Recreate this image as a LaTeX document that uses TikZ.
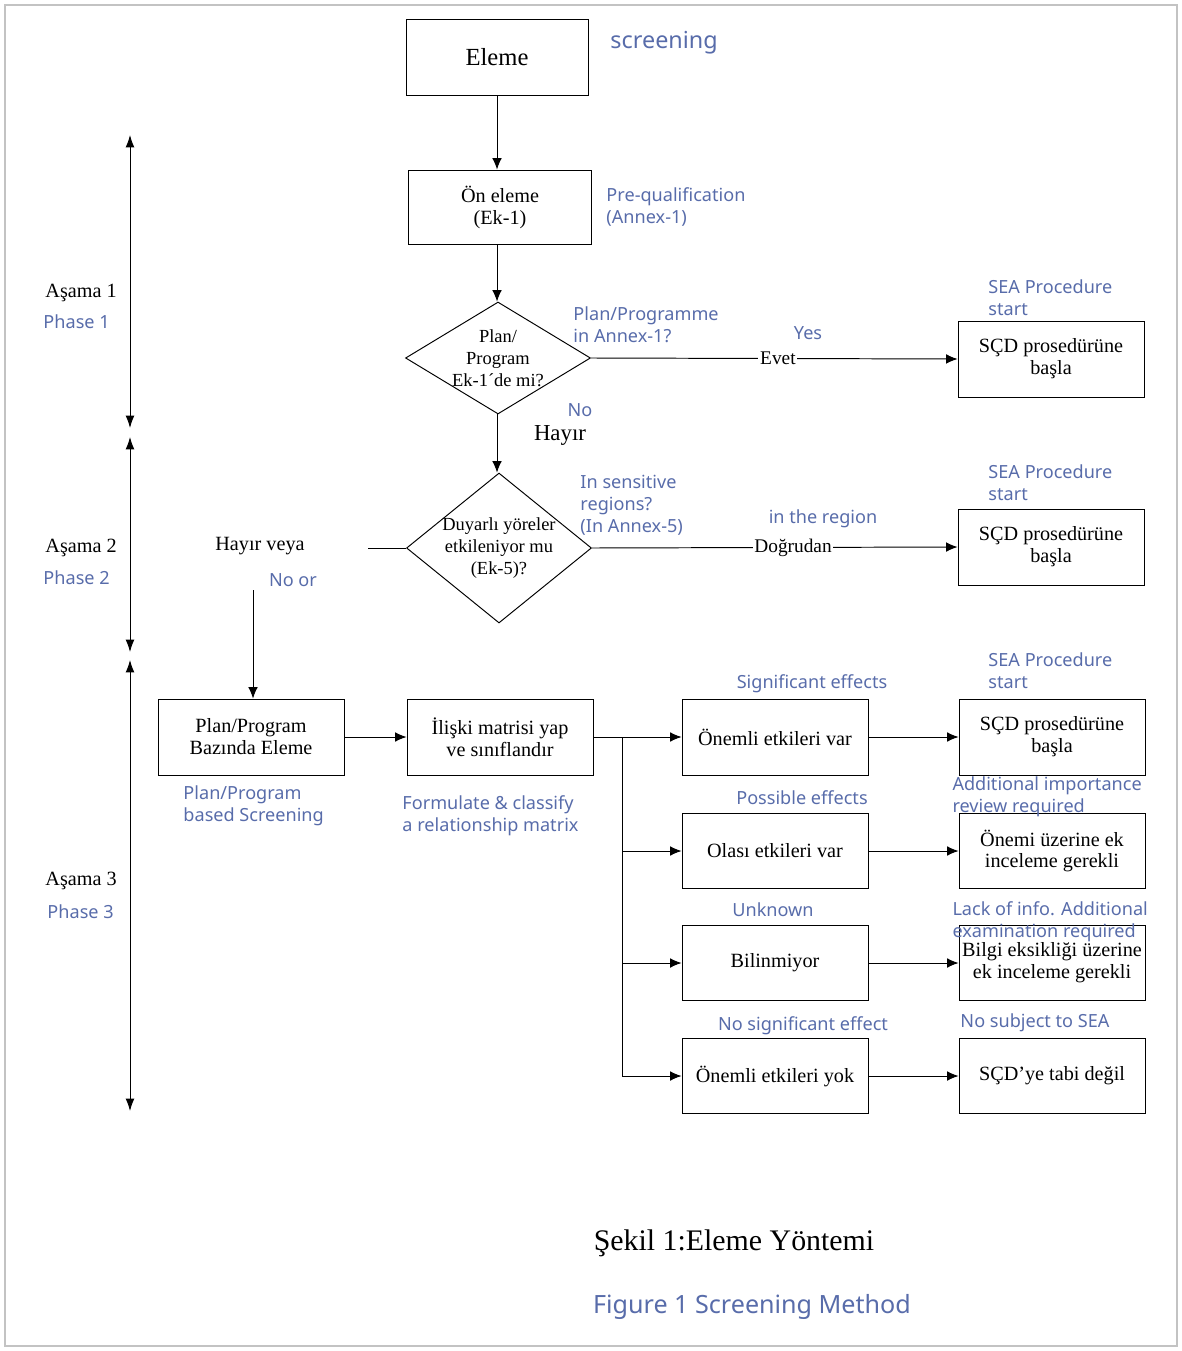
\documentclass[tikz,border=0pt]{standalone}
\usepackage{fontspec}
\setmainfont{Liberation Serif}
\newfontfamily\engfont{Noto Sans}
\definecolor{engblue}{RGB}{88,108,170}
\definecolor{framegray}{RGB}{195,195,195}
\usetikzlibrary{arrows.meta,positioning,shapes.geometric}

\begin{document}
\begin{tikzpicture}[x=0.02cm, y=-0.02cm,
  line width=0.55pt,
  box/.style={draw, align=center, inner sep=1pt, minimum width=3.72cm, minimum height=1.52cm,
    font=\fontsize{11.5}{12.5}\selectfont},
  decision/.style={draw, diamond, inner sep=0pt, minimum width=3.7cm},
  dtext/.style={align=center, inner sep=0pt, font=\fontsize{10.5}{12.5}\selectfont},
  eng/.style={text=engblue, align=left, inner sep=0pt, font=\engfont\fontsize{10.3}{12.5}\selectfont},
  tr/.style={inner sep=0pt, font=\fontsize{11.5}{13}\selectfont},
  arr/.style={-{Latex[length=6.5pt,width=5.5pt]}},
  phase/.style={{Latex[length=7pt,width=5pt]}-{Latex[length=7pt,width=5pt]}}
]
\useasboundingbox (0,0) rectangle (1182,1351);
\draw[framegray, line width=0.8pt] (5,5) rectangle (1177,1346);

% main column
\node[box, minimum width=3.64cm, font=\fontsize{14}{16}\selectfont] (elm) at (497,57) {Eleme};
\node[box, minimum width=3.66cm, minimum height=1.48cm] (pre) at (500,207) {Ön eleme\\(Ek-1)};
\node[decision, minimum height=2.24cm,
  label={[dtext]center:Plan/\\Program\\Ek-1´de mi?}] (d1) at (498,358) {};
\node[decision, minimum height=3.0cm,
  label={[dtext]center:Duyarlı yöreler\\etkileniyor mu\\(Ek-5)?}] (d2) at (499,548) {};

\node[box] (start1) at (1051,359) {SÇD prosedürüne\\başla};
\node[box] (start2) at (1051,547) {SÇD prosedürüne\\başla};

\node[box] (pp) at (251,737) {Plan/Program\\Bazında Eleme};
\node[box] (rel) at (500,737) {İlişki matrisi yap\\ve sınıflandır};

\node[box] (sig) at (775,737) {Önemli etkileri var};
\node[box, minimum height=1.5cm] (pos) at (775,851) {Olası etkileri var};
\node[box, minimum height=1.5cm] (unk) at (775,963) {Bilinmiyor};
\node[box, minimum height=1.5cm] (nosig) at (775,1076) {Önemli etkileri yok};

\node[box] (start3) at (1052,737) {SÇD prosedürüne\\başla};
\node[box, minimum height=1.5cm] (review) at (1052,851) {Önemi üzerine ek\\inceleme gerekli};
\node[box, minimum height=1.5cm] (lack) at (1052,963) {Bilgi eksikliği üzerine\\ek inceleme gerekli};
\node[box, minimum height=1.5cm] (nosea) at (1052,1076) {SÇD'ye tabi değil};

% connectors
\draw[arr] (elm.south) -- (elm.south |- pre.north);
\draw[arr] (elm.south |- pre.south) -- (elm.south |- d1.north);
\draw[arr] (elm.south |- d1.south) -- (elm.south |- d2.north);
\draw[arr] (d1.east) -- node[tr, fill=white, inner xsep=1pt, pos=0.51, font=\fontsize{11}{13}\selectfont] (evet) {Evet} (start1.west);
\draw[arr] (d2.east) -- node[tr, fill=white, inner xsep=1pt, pos=0.55, font=\fontsize{11}{13}\selectfont] (dog) {Doğrudan} (start2.west);
\coordinate (nleft) at (368,548);
\draw (d2.west) -- (nleft);
\coordinate (ntop) at (253,590);
\draw[arr] (ntop) -- (pp.north -| ntop);
\draw[arr] (pp) -- (rel);
\coordinate (split) at (622,737);
\draw (rel.east) -- (split);
\draw (split) -- (split |- nosig.west);
\foreach \b in {sig,pos,unk,nosig}
  \draw[arr] (split |- \b.west) -- (\b.west);
\draw[arr] (sig) -- (start3);
\draw[arr] (pos) -- (review);
\draw[arr] (unk) -- (lack);
\draw[arr] (nosig) -- (nosea);

% phases
\coordinate (p1a) at (130,135);
\coordinate (p1b) at (130,428);
\coordinate (p2a) at (130,437);
\coordinate (p2b) at (130,652);
\coordinate (p3a) at (130,660);
\coordinate (p3b) at (130,1111);
\draw[phase] (p1a) -- (p1b);
\draw[phase] (p2a) -- (p2b);
\draw[phase] (p3a) -- (p3b);
\node[tr, anchor=west] (a1) at (45,293) {Aşama 1};
\node[eng, anchor=west] (e1) at (43,322) {Phase 1};
\node[tr, anchor=west] (a2) at (45,548) {Aşama 2};
\node[eng, anchor=west] (e2) at (43,578) {Phase 2};
\node[tr, anchor=west] (a3) at (45,881) {Aşama 3};
\node[eng, anchor=west] (e3) at (47,912) {Phase 3};

% labels
\node[tr, font=\fontsize{13}{15}\selectfont] (hayir) at (560,435) {Hayır};
\node[tr] (hveya) at (260,546) {Hayır veya};
\node[eng, font=\engfont\fontsize{13.3}{15}\selectfont, anchor=west] (scr) at (610,43) {screening};
\node[eng, anchor=west] (preq) at (606,207) {Pre-qualification\\(Annex-1)};
\node[eng, anchor=west] (inann) at (573,325) {Plan/Programme\\in Annex-1?};
\node[eng] (yes) at (808,333) {Yes};
\node[eng, anchor=west] (sea1) at (988,298) {SEA Procedure\\start};
\node[eng] (no) at (580,410) {No};
\node[eng, anchor=west] (sens) at (580,505) {In sensitive\\regions?\\(In Annex-5)};
\node[eng] (inreg) at (823,519) {in the region};
\node[eng, anchor=west] (sea2) at (988,483) {SEA Procedure\\start};
\node[eng] (noor) at (293,580) {No or};
\node[eng, anchor=west] (ppeng) at (183,806) {Plan/Program\\based Screening};
\node[eng, anchor=west] (releng) at (402,816) {Formulate \& classify\\a relationship matrix};
\node[eng] (sigeng) at (812,684) {Significant effects};
\node[eng, anchor=west] (sea3) at (988,671) {SEA Procedure\\start};
\node[eng] (poseng) at (802,798) {Possible effects};
\node[eng, anchor=west] (reveng) at (952,797) {Additional importance\\review required};
\node[eng] (unkeng) at (773,910) {Unknown};
\node[eng, anchor=west] (lackeng) at (952,922) {Lack of info. Additional\\examination required};
\node[eng] (nosigeng) at (803,1026) {No significant effect};
\node[eng, anchor=west] (noseaeng) at (960,1023) {No subject to SEA};

% caption
\node[tr, font=\fontsize{17}{19}\selectfont] (cap) at (734,1243) {Şekil 1:Eleme Yöntemi};
\node[eng, font=\engfont\fontsize{14.3}{16}\selectfont] (capeng) at (752,1307) {Figure 1 Screening Method};
\end{tikzpicture}
\end{document}
